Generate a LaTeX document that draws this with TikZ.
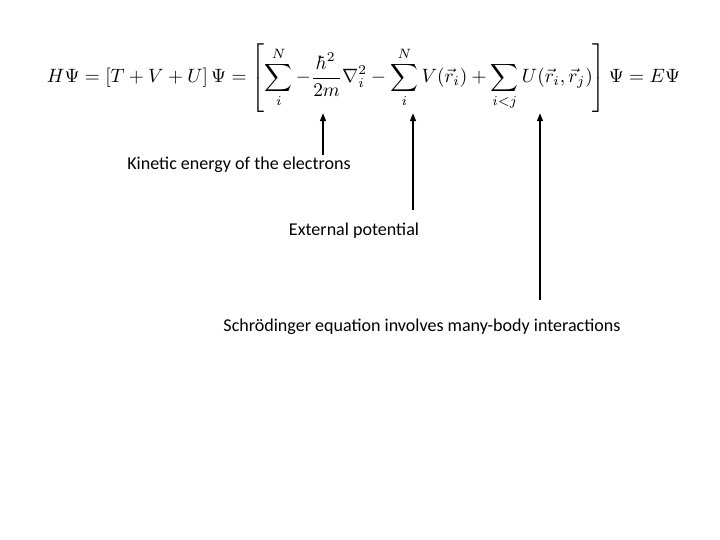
\documentclass[tikz,border=0pt]{standalone}
\usepackage{amsmath}
\usepackage{graphicx}
\usepackage{fontspec}
\setmainfont{Carlito}
\usetikzlibrary{arrows.meta}

\begin{document}
\begin{tikzpicture}[
        x=0.03cm, y=-0.03cm,
        pointer/.style={-{Triangle[length=7pt, width=5pt]}, line width=1.6pt},
        note/.style={font=\fontsize{15.4}{18}\selectfont, inner sep=0pt, anchor=base}
    ]

    \useasboundingbox (0,0) rectangle (720,540);

    % Hamiltonian
    \node[inner sep=0pt] (eqn) at (363.5,78) {\resizebox{18.99cm}{!}{$\displaystyle
        H\Psi = [T+V+U]\,\Psi = \left[\sum_i^N -\frac{\hbar^2}{2m}\nabla_i^2
        - \sum_i^N V(\vec{r}_i) + \sum_{i<j} U(\vec{r}_i,\vec{r}_j)\right]\Psi = E\Psi$}};

    \node[note] (kinetic) at (239,170) {Kinetic energy of the electrons};
    \node[note] (external) at (354,236) {External potential};
    \node[note] (manybody) at (422,332) {Schrödinger equation involves many-body interactions};

    \coordinate (kintip) at (323,113);
    \coordinate (kintail) at (323,155);
    \coordinate (exttip) at (413,113);
    \coordinate (exttail) at (413,210);
    \coordinate (inttip) at (540,113);
    \coordinate (inttail) at (540,300);

    \draw[pointer] (kintail) -- (kintip);
    \draw[pointer] (exttail) -- (exttip);
    \draw[pointer] (inttail) -- (inttip);

\end{tikzpicture}
\end{document}
